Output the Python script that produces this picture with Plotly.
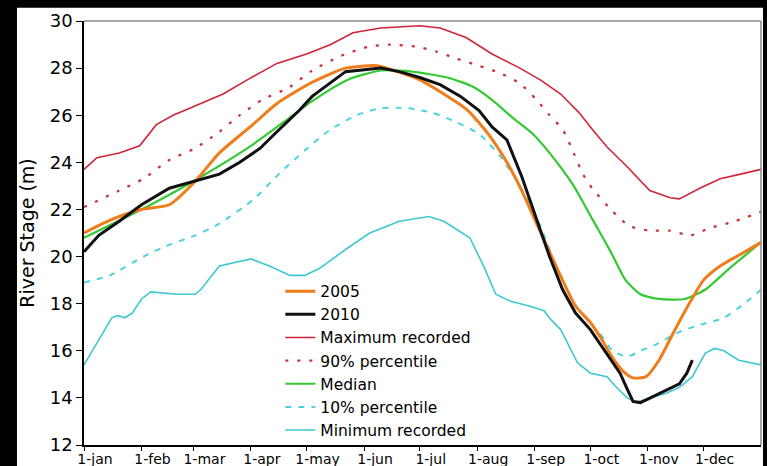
import plotly.graph_objects as go

# Day of year (0 = 1 January) and river stage (m) for each series
max_days = [0, 7, 19, 30, 39, 48, 57, 75, 88, 104, 120, 133, 145, 160, 181, 192, 206, 220,
            235, 246, 257, 267, 274, 282, 293, 305, 316, 321, 332, 343, 354, 365]
max_vals = [23.7, 24.2, 24.4, 24.7, 25.6, 26.0, 26.3, 26.9, 27.5, 28.2, 28.6, 29.0, 29.5, 29.7,
            29.8, 29.7, 29.3, 28.6, 28.0, 27.5, 26.9, 26.1, 25.4, 24.65, 23.8, 22.8, 22.5, 22.45,
            22.9, 23.3, 23.5, 23.7]

p90_days = [0, 19, 32, 46, 60, 73, 84, 96, 111, 123, 138, 153, 165, 180, 190, 201, 213, 224,
            235, 244, 251, 258, 264, 269, 274, 284, 294, 305, 316, 327, 337, 351, 365]
p90_vals = [22.1, 22.8, 23.3, 24.1, 24.6, 25.3, 26.0, 26.65, 27.2, 27.9, 28.5, 28.9, 29.0, 28.9,
            28.7, 28.4, 28.1, 27.8, 27.35, 26.65, 26.0, 25.4, 24.4, 23.5, 22.9, 22.0, 21.3, 21.1,
            21.1, 20.9, 21.2, 21.5, 21.9]

median_days = [0, 31, 59, 90, 111, 123, 142, 160, 177, 196, 210, 220, 231, 242, 253, 264, 274,
               284, 292, 300, 310, 324, 335, 348, 365]
median_vals = [20.8, 22.0, 23.2, 24.7, 25.9, 26.6, 27.5, 27.9, 27.85, 27.6, 27.2, 26.65, 25.9,
               25.2, 24.2, 23.0, 21.6, 20.2, 19.0, 18.4, 18.2, 18.2, 18.6, 19.5, 20.6]

p10_days = [0, 14, 32, 46, 60, 73, 91, 105, 119, 133, 147, 160, 174, 188, 201, 213, 224, 235,
            246, 256, 267, 278, 285, 293, 300, 308, 321, 332, 345, 356, 365]
p10_vals = [18.9, 19.2, 20.0, 20.5, 20.9, 21.4, 22.4, 23.5, 24.5, 25.4, 26.0, 26.3, 26.3, 26.1,
            25.7, 25.2, 24.3, 23.0, 21.3, 19.3, 17.7, 16.75, 16.0, 15.75, 16.0, 16.25, 16.8, 17.1,
            17.4, 18.0, 18.6]

min_days = [0, 8, 15, 18, 22, 26, 31, 36, 50, 60, 63, 73, 84, 90, 100, 111, 119, 127, 141, 154,
            170, 186, 194, 208, 216, 222, 230, 240, 248, 252, 257, 266, 273, 282, 287, 293, 298,
            305, 314, 321, 328, 335, 340, 345, 353, 365]
min_vals = [15.4, 16.45, 17.4, 17.5, 17.4, 17.6, 18.2, 18.5, 18.4, 18.4, 18.6, 19.6, 19.8, 19.9,
            19.6, 19.2, 19.2, 19.5, 20.3, 21.0, 21.5, 21.7, 21.5, 20.8, 19.5, 18.4, 18.1, 17.9,
            17.7, 17.3, 16.9, 15.5, 15.05, 14.9, 14.45, 14.0, 13.8, 14.0, 14.2, 14.45, 14.9, 15.9,
            16.1, 16.0, 15.6, 15.4]

y2005_days = [0, 10, 19, 31, 46, 60, 73, 91, 104, 123, 141, 158, 169, 181, 194, 207, 218, 228,
              236, 244, 251, 258, 265, 273, 279, 285, 291, 296, 303, 310, 318, 327, 334, 343, 354, 365]
y2005_vals = [21.0, 21.4, 21.7, 22.0, 22.2, 23.2, 24.4, 25.6, 26.5, 27.4, 28.0, 28.1, 27.85, 27.5,
              26.9, 26.2, 25.2, 24.0, 22.8, 21.4, 20.2, 19.0, 17.9, 17.2, 16.5, 15.7, 15.1, 14.85,
              14.9, 15.6, 16.8, 18.1, 19.0, 19.6, 20.1, 20.6]

y2010_days = [0, 8, 19, 31, 46, 60, 73, 84, 95, 104, 116, 123, 141, 160, 170, 181, 192, 203, 213,
              220, 228, 236, 244, 251, 258, 265, 273, 285, 289, 293, 296, 300, 308, 314, 321, 325, 328]
y2010_vals = [20.2, 20.9, 21.5, 22.2, 22.9, 23.2, 23.5, 24.0, 24.6, 25.3, 26.2, 26.8, 27.85, 28.0,
              27.85, 27.6, 27.3, 26.8, 26.2, 25.5, 24.95, 23.4, 21.6, 20.0, 18.6, 17.6, 16.9, 15.5,
              15.05, 14.35, 13.85, 13.8, 14.1, 14.35, 14.6, 15.05, 15.6]

month_starts = [0, 31, 59, 90, 120, 151, 181, 212, 243, 273, 304, 334]
month_labels = ["1-jan", "1-feb", "1-mar", "1-apr", "1-may", "1-jun",
                "1-jul", "1-aug", "1-sep", "1-oct", "1-nov", "1-dec"]

FONT = "DejaVu Sans"

fig = go.Figure()

# drawn back to front; legendrank gives the key order
series = [
    ("Minimum recorded", min_days, min_vals, "#3ec8d0", 1.6, "solid", "linear", 7),
    ("10% percentile", p10_days, p10_vals, "#4fd3da", 2.0, "6px,7px", "spline", 6),
    ("Median", median_days, median_vals, "#34c934", 2.2, "solid", "spline", 5),
    ("90% percentile", p90_days, p90_vals, "#c8303c", 2.2, "3px,9px", "spline", 4),
    ("Maximum recorded", max_days, max_vals, "#cf2538", 1.6, "solid", "linear", 3),
    ("2005", y2005_days, y2005_vals, "#f07d1a", 3.0, "solid", "spline", 1),
    ("2010", y2010_days, y2010_vals, "#111111", 3.0, "solid", "linear", 2),
]
for name, xs, ys, color, width, dash, shape, rank in series:
    line = dict(color=color, width=width, dash=dash, shape=shape)
    if shape == "spline":
        line["smoothing"] = 0.6
    fig.add_trace(go.Scatter(x=xs, y=ys, mode="lines", name=name, line=line,
                             legendrank=rank))

fig.update_layout(
    width=767, height=466,
    margin=dict(l=84, r=6, t=21, b=21),
    paper_bgcolor="black",
    plot_bgcolor="white",
    font=dict(family=FONT, color="black"),
    showlegend=True,
    legend=dict(
        x=0.29, y=0.402, xanchor="left", yanchor="top",
        bgcolor="rgba(0,0,0,0)", borderwidth=0,
        font=dict(family=FONT, size=15.5, color="black"),
        tracegroupgap=0,
    ),
    shapes=[
        # white card behind the chart
        dict(type="rect", xref="paper", yref="paper", x0=-0.099, x1=1.003,
             y0=-0.06, y1=1.031, fillcolor="white", line=dict(width=0), layer="below"),
        # grey top and right frame
        dict(type="line", xref="paper", yref="paper", x0=0, x1=1, y0=1, y1=1,
             line=dict(color="#8a8a8a", width=1.5)),
        dict(type="line", xref="paper", yref="paper", x0=1, x1=1, y0=0, y1=1,
             line=dict(color="#8a8a8a", width=1.5)),
    ],
)

fig.update_xaxes(
    range=[0, 365], automargin=False,
    tickmode="array", tickvals=month_starts, ticktext=month_labels,
    ticks="outside", ticklen=4, tickwidth=1, tickcolor="black",
    ticklabelshift=11, ticklabelstandoff=-4,
    showline=True, linecolor="black", linewidth=1.5,
    showgrid=False, zeroline=False,
    tickfont=dict(family=FONT, size=14, color="black"),
)
fig.update_yaxes(
    range=[12, 30], tick0=12, dtick=2, automargin=False,
    ticks="outside", ticklen=6, tickwidth=1, tickcolor="black",
    showline=True, linecolor="black", linewidth=1.5,
    showgrid=False, zeroline=False,
    tickfont=dict(family=FONT, size=18, color="black"),
    title=dict(text="River Stage (m)", font=dict(family=FONT, size=19, color="black"),
               standoff=10),
)

fig.write_html("out.html")
